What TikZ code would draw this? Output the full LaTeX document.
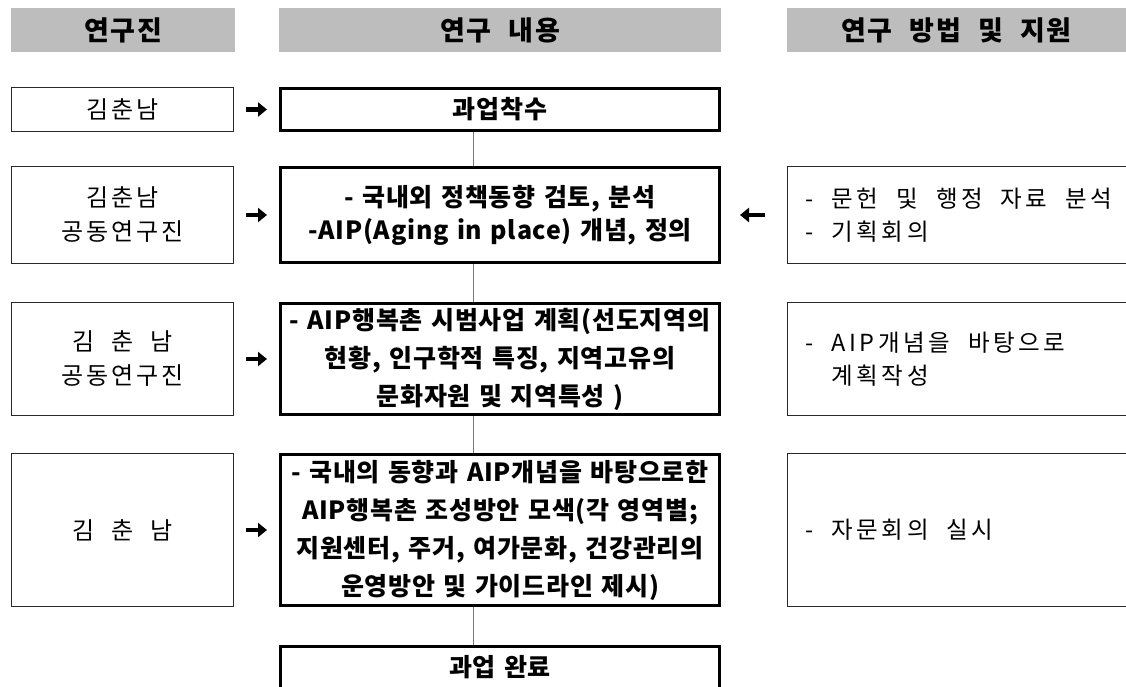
\documentclass[tikz,border=0pt]{standalone}
\usepackage{fontspec}
\setmainfont{Noto Sans CJK KR}
\newfontfamily\krH[LetterSpace=6, WordSpace=2.2]{Noto Sans CJK KR}
\newfontfamily\krM[LetterSpace=3, WordSpace=1.3]{Noto Sans CJK KR}
\newfontfamily\krL[LetterSpace=13, WordSpace=2.0]{Noto Sans CJK KR}
\newfontfamily\krR[LetterSpace=15]{Noto Sans CJK KR}
\usetikzlibrary{arrows.meta}
\definecolor{hdrgray}{RGB}{189,189,189}
\definecolor{thinline}{RGB}{40,40,40}
\definecolor{connline}{RGB}{120,120,120}
\newcommand\hdrfont{\krH\bfseries\fontsize{27}{30}\selectfont}
\newcommand\sidefont{\krL\fontsize{24}{34}\selectfont}
\newcommand\midfont{\krM\bfseries\fontsize{25}{38}\selectfont}
\newcommand\midfonttight{\krM\bfseries\fontsize{25}{33}\selectfont}
\newcommand\rightfont{\krR\fontsize{23.5}{33}\selectfont}
\newcommand\rs{\hspace*{18pt}}
\begin{document}
\begin{tikzpicture}[x=1pt,y=-1pt,
  hdr/.style={fill=hdrgray, inner sep=0pt, minimum height=44pt, font=\hdrfont},
  sbox/.style={draw=thinline, line width=1pt, inner sep=0pt, align=center,
    minimum width=222pt, font=\sidefont},
  mbox/.style={draw=black, line width=3pt, inner sep=0pt, align=center,
    minimum width=439pt, font=\midfont},
  mboxtight/.style={mbox, font=\midfonttight},
  rbox/.style={draw=thinline, line width=1pt, anchor=west, inner ysep=0pt,
    inner xsep=18pt, align=left, text width=340pt, font=\rightfont},
  rarr/.style={line width=4.5pt, -{Triangle[length=9pt,width=14pt]}},
  conn/.style={draw=connline, line width=0.8pt}]
\useasboundingbox (0,0) rectangle (1126,687);
\clip (0,0) rectangle (1126,687);

% headers
\node[hdr, minimum width=224pt] (H1) at (123,30) {연구진};
\node[hdr, minimum width=442pt] (H2) at (500,30) {연구 내용};
\node[hdr, minimum width=339pt] (H3) at (956.5,30) {연구 방법 및 지원};

% left column
\node[sbox, minimum height=44pt]  (L1) at (122.5,109.5) {김춘남};
\node[sbox, minimum height=97pt]  (L2) at (122.5,215) {김춘남\\공동연구진};
\node[sbox, minimum height=113pt] (L3) at (122.5,359) {김 춘 남\\공동연구진};
\node[sbox, minimum height=153pt] (L4) at (122.5,530) {김 춘 남};

% middle column
\node[mbox, minimum height=42pt] (M1) at (500,109.5) {과업착수};
\node[mboxtight, minimum height=95pt] (M2) at (500,215)
  {- 국내외 정책동향 검토, 분석\\-AIP(Aging in place) 개념, 정의};
\node[mbox, minimum height=111pt] (M3) at (500,359)
  {- AIP행복촌 시범사업 계획(선도지역의\\현황, 인구학적 특징, 지역고유의\\문화자원 및 지역특성 )};
\node[mbox, minimum height=151pt] (M4) at (500,530)
  {- 국내의 동향과 AIP개념을 바탕으로한\\AIP행복촌 조성방안 모색(각 영역별;\\지원센터, 주거, 여가문화, 건강관리의\\운영방안 및 가이드라인 제시)};
\node[mbox, minimum height=42pt] (M5) at (500,667.5) {과업 완료};

% right column
\node[rbox, minimum height=97pt]  (R2) at (787,215)
  {-\rs{}문헌\rs{}및\rs{}행정\rs{}자료\rs{}분석\\-\rs{}기획회의};
\node[rbox, minimum height=113pt] (R3) at (787,359)
  {-\rs{}AIP개념을\rs{}바탕으로\\\phantom{-}\rs{}계획작성};
\node[rbox, minimum height=153pt] (R4) at (787,530)
  {-\rs{}자문회의\rs{}실시};

% arrows
\draw[rarr, shorten <=12pt, shorten >=12pt] (L1) -- (M1);
\draw[rarr, shorten <=12pt, shorten >=12pt] (L2) -- (M2);
\draw[rarr, shorten <=12pt, shorten >=12pt] (L3) -- (M3);
\draw[rarr, shorten <=12pt, shorten >=12pt] (L4) -- (M4);
\draw[rarr, shorten <=22pt, shorten >=19pt] (R2.west) -- (M2.east);

% connectors
\coordinate (cx) at (473,0);
\draw[conn] (M1.south -| cx) -- (M2.north -| cx);
\draw[conn] (M2.south -| cx) -- (M3.north -| cx);
\draw[conn] (M3.south -| cx) -- (M4.north -| cx);
\draw[conn] (M4.south -| cx) -- (M5.north -| cx);
\end{tikzpicture}
\end{document}
